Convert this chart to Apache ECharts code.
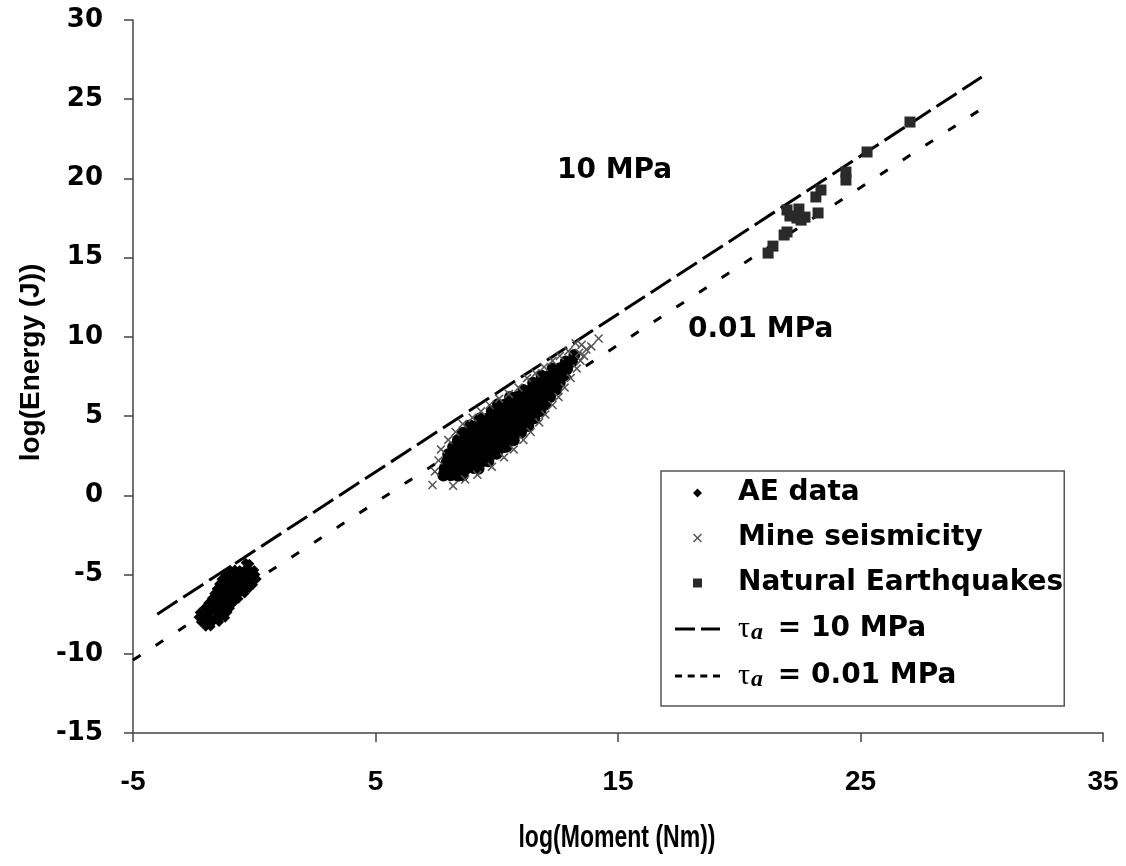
<!DOCTYPE html>
<html>
<head>
<meta charset="utf-8">
<script src="https://cdn.jsdelivr.net/npm/echarts@6/dist/echarts.min.js"></script>
<style>
html,body{margin:0;padding:0;background:#fff;}
#chart{width:1126px;height:866px;}
</style>
</head>
<body>
<div id="chart"></div>
<script>
// ---------------- data ----------------
const xTicks = [-5, 5, 15, 25, 35];
const yTicks = [-15, -10, -5, 0, 5, 10, 15, 20, 25, 30];

const seriesNames = ['AE data', 'Mine seismicity', 'Natural Earthquakes', 'τa = 10 MPa', 'τa = 0.01 MPa'];
const axisTitles = ['log(Moment (Nm))', 'log(Energy (J))'];
const lineLabels = ['10 MPa', '0.01 MPa'];

// acoustic emission events [log M, log E]
const aeData = [
  [-0.35,-4.25],[-0.2,-4.32],
  [-1.0,-4.7],[-0.8,-4.68],[-0.6,-4.72],[-0.4,-4.7],[-0.2,-4.66],[0.0,-4.72],
  [-1.2,-5.0],[-1.0,-4.98],[-0.8,-5.02],[-0.6,-5.0],[-0.4,-4.96],[-0.2,-5.02],[0.05,-5.0],
  [-1.35,-5.3],[-1.15,-5.28],[-0.95,-5.32],[-0.75,-5.3],[-0.55,-5.26],[-0.35,-5.32],[-0.15,-5.3],[0.1,-5.28],
  [-1.45,-5.6],[-1.25,-5.62],[-1.05,-5.58],[-0.85,-5.6],[-0.65,-5.62],[-0.45,-5.58],[-0.25,-5.6],[-0.05,-5.64],
  [-1.55,-5.9],[-1.35,-5.88],[-1.15,-5.92],[-0.95,-5.9],[-0.75,-5.88],[-0.55,-5.92],[-0.35,-5.9],[-0.2,-5.86],
  [-1.65,-6.2],[-1.45,-6.22],[-1.25,-6.18],[-1.05,-6.2],[-0.85,-6.22],[-0.6,-6.18],[-0.4,-6.2],
  [-1.75,-6.5],[-1.55,-6.48],[-1.35,-6.52],[-1.15,-6.5],[-0.9,-6.48],[-0.65,-6.52],
  [-1.9,-6.8],[-1.7,-6.82],[-1.5,-6.78],[-1.3,-6.8],[-1.05,-6.82],[-0.85,-6.78],
  [-2.05,-7.1],[-1.85,-7.08],[-1.6,-7.12],[-1.4,-7.1],[-1.2,-7.08],[-1.0,-7.12],
  [-2.25,-7.4],[-2.0,-7.42],[-1.8,-7.38],[-1.55,-7.4],[-1.3,-7.42],[-1.1,-7.38],
  [-2.3,-7.7],[-2.05,-7.68],[-1.85,-7.72],[-1.6,-7.7],[-1.4,-7.68],[-1.2,-7.72],
  [-2.2,-8.0],[-1.95,-8.02],[-1.7,-7.98],[-1.45,-8.0],
  [-2.0,-8.3],[-1.8,-8.28]
];

// mine seismicity: sparse events around the edge of the cloud
const mineEdge = [
  [7.35,0.65],[8.2,0.6],[7.45,1.5],[7.6,2.2],[7.7,2.9],[8.0,3.5],[8.3,4.0],[8.6,4.5],
  [9.0,4.9],[9.35,5.3],[9.7,5.7],[10.1,6.1],[10.5,6.4],[10.9,6.8],[11.25,7.4],[11.6,7.7],
  [11.95,8.1],[12.3,8.5],[12.6,8.8],[12.95,9.1],[13.25,9.6],[13.5,9.5],[13.7,9.2],[13.9,9.4],
  [14.2,9.9],[13.4,9.0],[13.6,8.8],
  [8.7,1.0],[9.2,1.3],[9.8,1.8],[10.3,2.4],[10.7,2.9],[11.1,3.5],[11.4,4.0],[11.75,4.6],
  [12.0,5.1],[12.3,5.7],[12.55,6.2],[12.8,6.8],[13.05,7.4],[13.3,8.0],[13.45,8.5]
];

// mine seismicity: dense core of the cloud
const mineCore = [
  [7.8,1.25],[8.1,1.27],[8.4,1.23],[8.6,1.26],
  [7.85,1.7],[8.15,1.72],[8.45,1.68],[8.75,1.7],[9.05,1.72],[9.25,1.68],
  [7.95,2.15],[8.25,2.13],[8.55,2.17],[8.85,2.15],[9.15,2.13],[9.45,2.17],[9.65,2.15],
  [8.0,2.6],[8.3,2.62],[8.6,2.58],[8.9,2.6],[9.2,2.62],[9.5,2.58],[9.8,2.6],[10.0,2.62],
  [8.2,3.05],[8.5,3.03],[8.8,3.07],[9.1,3.05],[9.4,3.03],[9.7,3.07],[10.0,3.05],[10.25,3.03],[10.4,3.07],
  [8.4,3.5],[8.7,3.52],[9.0,3.48],[9.3,3.5],[9.6,3.52],[9.9,3.48],[10.2,3.5],[10.5,3.52],[10.7,3.48],
  [8.6,3.95],[8.9,3.93],[9.2,3.97],[9.5,3.95],[9.8,3.93],[10.1,3.97],[10.4,3.95],[10.7,3.93],[11.0,3.97],
  [8.9,4.4],[9.2,4.42],[9.5,4.38],[9.8,4.4],[10.1,4.42],[10.4,4.38],[10.7,4.4],[11.0,4.42],[11.3,4.38],
  [9.3,4.85],[9.6,4.83],[9.9,4.87],[10.2,4.85],[10.5,4.83],[10.8,4.87],[11.1,4.85],[11.35,4.83],[11.55,4.87],
  [9.8,5.3],[10.1,5.32],[10.4,5.28],[10.7,5.3],[11.0,5.32],[11.3,5.28],[11.55,5.3],[11.8,5.32],
  [10.05,5.75],[10.35,5.73],[10.65,5.77],[10.95,5.75],[11.25,5.73],[11.55,5.77],[11.8,5.75],[12.0,5.73],
  [10.55,6.2],[10.85,6.22],[11.15,6.18],[11.45,6.2],[11.75,6.22],[12.0,6.18],[12.2,6.2],
  [11.1,6.65],[11.4,6.63],[11.7,6.67],[12.0,6.65],[12.25,6.63],[12.45,6.67],
  [11.5,7.1],[11.8,7.12],[12.1,7.08],[12.4,7.1],[12.6,7.12],
  [11.85,7.55],[12.15,7.53],[12.45,7.57],[12.75,7.55],
  [12.3,8.0],[12.6,8.02],[12.9,7.98],
  [12.85,8.45],[13.1,8.43],
  [13.2,8.85]
];

// natural earthquakes [log M, log E]
const quakeData = [
  [27.04,23.56],[25.27,21.67],[24.40,20.40],[24.40,19.90],[23.37,19.27],[23.16,18.83],
  [23.25,17.82],[21.97,18.01],[22.46,18.07],[22.09,17.63],[22.38,17.50],[22.71,17.56],
  [22.55,17.37],[21.97,16.62],[21.85,16.43],[21.39,15.73],[21.19,15.29]
];

// apparent stress reference lines (end points)
const line10MPa = [[-4, -7.5], [30, 26.4]];
const line001MPa = [[-5, -10.4], [30, 24.4]];

// ---------------- chart ----------------
const crossPath = 'path://M0,1.2L1.2,0L5,3.8L8.8,0L10,1.2L6.2,5L10,8.8L8.8,10L5,6.2L1.2,10L0,8.8L3.8,5Z';
const diamondPath = 'path://M5,0L10,5L5,10L0,5Z';
const squarePath = 'path://M0,0H10V10H0Z';
const dashIcon = 'path://M0,0H20V3H0Z M26,0H45V3H26Z';
const dotIcon = 'path://M0,0H7V3H0Z M12.7,0H19.7V3H12.7Z M25.3,0H32.3V3H25.3Z M38,0H45V3H38Z';

const chart = echarts.init(document.getElementById('chart'), null, {renderer: 'canvas'});

const axisFontY = {fontFamily: '"DejaVu Sans", sans-serif', fontWeight: 'bold', fontSize: 26, color: '#000'};
const axisFontX = {fontFamily: '"Liberation Sans", Arial, sans-serif', fontWeight: 'bold', fontSize: 28, color: '#000'};

chart.setOption({
  animation: false,
  backgroundColor: '#fff',
  grid: {left: 133, right: 23, top: 20, bottom: 133, containLabel: false},
  xAxis: {
    type: 'value', min: -5, max: 35, interval: 5,
    axisLine: {show: true, onZero: false, lineStyle: {color: '#444', width: 1.5}},
    axisTick: {show: true, length: 9, customValues: xTicks, lineStyle: {color: '#444', width: 1.5}},
    axisLabel: Object.assign({margin: 35, customValues: xTicks}, axisFontX),
    splitLine: {show: false}
  },
  yAxis: {
    type: 'value', min: -15, max: 30, interval: 5,
    name: axisTitles[1], nameLocation: 'middle', nameGap: 88,
    nameTextStyle: {fontFamily: '"Liberation Sans", Arial, sans-serif', fontWeight: 'bold', fontSize: 28, color: '#000', padding: [0, 0, 0, 28]},
    axisLine: {show: true, onZero: false, lineStyle: {color: '#444', width: 1.5}},
    axisTick: {show: true, length: 9, customValues: yTicks, lineStyle: {color: '#444', width: 1.5}},
    axisLabel: Object.assign({margin: 30, customValues: yTicks}, axisFontY),
    splitLine: {show: false}
  },
  legend: {
    orient: 'vertical',
    left: 661, top: 471,
    padding: [7, 1, 14, 14],
    itemWidth: 45, itemHeight: 9, itemGap: 15,
    symbolKeepAspect: true,
    backgroundColor: '#fff',
    borderColor: '#555', borderWidth: 1.5, borderRadius: 0,
    selectedMode: false,
    data: [
      {name: seriesNames[0], icon: diamondPath},
      {name: seriesNames[1], icon: crossPath},
      {name: seriesNames[2], icon: squarePath},
      {name: seriesNames[3], icon: dashIcon},
      {name: seriesNames[4], icon: dotIcon}
    ],
    textStyle: {
      fontFamily: '"DejaVu Sans", sans-serif', fontWeight: 'bold', fontSize: 28, color: '#000', lineHeight: 30,
      padding: [0, 0, 0, 13],
      rich: {
        t: {fontFamily: '"Liberation Serif", "DejaVu Serif", serif', fontWeight: 'normal', fontSize: 30, lineHeight: 24, color: '#000'},
        s: {fontFamily: '"Liberation Serif", "DejaVu Serif", serif', fontStyle: 'italic', fontWeight: 'bold', fontSize: 24, lineHeight: 16, padding: [8, 5, 0, 1], color: '#000'}
      }
    },
    formatter: function (name) {
      if (name === seriesNames[3]) return '{t|τ}{s|a} = 10 MPa';
      if (name === seriesNames[4]) return '{t|τ}{s|a} = 0.01 MPa';
      return name;
    }
  },
  graphic: [
    {type: 'text', left: 557, top: 157, z: 10, style: {text: lineLabels[0], font: 'bold 28px "DejaVu Sans"', fill: '#000'}},
    {type: 'text', left: 688, top: 316, z: 10, style: {text: lineLabels[1], font: 'bold 28px "DejaVu Sans"', fill: '#000'}},
    {type: 'text', x: 617, y: 838, scaleX: 0.72, z: 10,
     style: {text: axisTitles[0], font: 'bold 32px "Liberation Sans", Arial, sans-serif', fill: '#000', align: 'center', verticalAlign: 'middle'}}
  ],
  series: [
    {
      name: seriesNames[3], type: 'line', data: line10MPa, symbol: 'none', z: 1,
      lineStyle: {color: '#000', width: 3, type: [24, 7]}, itemStyle: {color: '#000'}
    },
    {
      name: seriesNames[4], type: 'line', data: line001MPa, symbol: 'none', z: 1,
      lineStyle: {color: '#000', width: 3, type: [9, 18]}, itemStyle: {color: '#000'}
    },
    {
      name: seriesNames[0], type: 'scatter', data: aeData, symbol: 'diamond', symbolSize: 10, z: 3,
      itemStyle: {color: '#000', opacity: 1}
    },
    {
      name: seriesNames[1], type: 'scatter', data: mineEdge, symbol: crossPath, symbolSize: 9, z: 3,
      itemStyle: {color: '#555', opacity: 1}
    },
    {
      name: seriesNames[1], type: 'scatter', data: mineCore, symbol: 'circle', symbolSize: 12, z: 2,
      itemStyle: {color: '#000', opacity: 1}
    },
    {
      name: seriesNames[2], type: 'scatter', data: quakeData, symbol: 'rect', symbolSize: 11, z: 3,
      itemStyle: {color: '#2a2a2a', opacity: 1}
    }
  ]
});
</script>
</body>
</html>
